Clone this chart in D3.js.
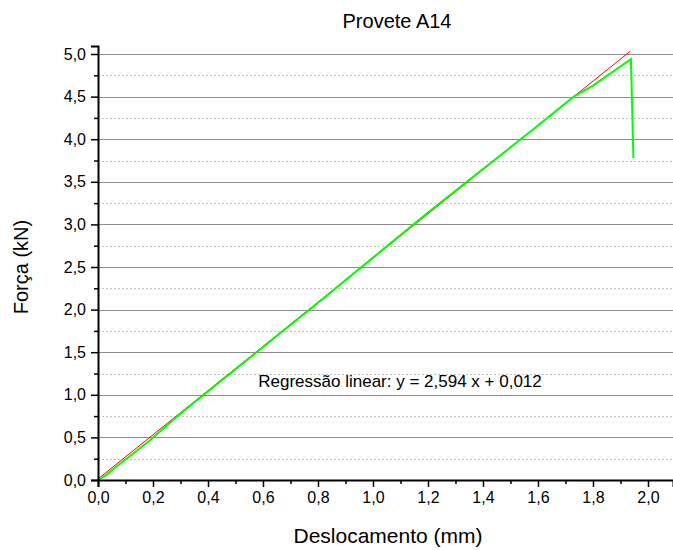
<!DOCTYPE html>
<html>
<head>
<meta charset="utf-8">
<script src="https://cdn.jsdelivr.net/npm/d3@7"></script>
<style>
  body { margin: 0; background: #fff; }
  text { font-family: "Liberation Sans", Arial, sans-serif; fill: #000; }
</style>
</head>
<body>
<svg id="chart" width="673" height="550"></svg>
<script>
// measured curve (Deslocamento mm, Força kN)
var dispMm = [0, 0.03, 0.074, 0.12, 0.19, 0.30, 0.50, 0.80, 1.00, 1.20, 1.40, 1.60, 1.73, 1.80, 1.938, 1.947];
var forceKn = [0, 0.06, 0.176, 0.29, 0.47, 0.78, 1.30, 2.08, 2.61, 3.14, 3.65, 4.16, 4.50, 4.63, 4.94, 3.78];

// regression y = a x + b
var regA = 2.594;
var regB = 0.012;
var regX = [0, 1.935];

var xTicks = [0, 0.2, 0.4, 0.6, 0.8, 1.0, 1.2, 1.4, 1.6, 1.8, 2.0];
var xMinor = [0.1, 0.3, 0.5, 0.7, 0.9, 1.1, 1.3, 1.5, 1.7, 1.9];
var yTicks = [0, 0.5, 1.0, 1.5, 2.0, 2.5, 3.0, 3.5, 4.0, 4.5, 5.0];
var yMinor = [0.25, 0.75, 1.25, 1.75, 2.25, 2.75, 3.25, 3.75, 4.25, 4.75];

var svg = d3.select("#chart");
var L = 98, R = 673, T = 46, B = 480;

var x = d3.scaleLinear().domain([0, 2.091]).range([L, R]);
var y = d3.scaleLinear().domain([0, 5.094]).range([B, T]);
var fmt = function(v) { return d3.format(".1f")(v).replace(".", ","); };

// minor grid (dotted)
svg.append("g").selectAll("line")
  .data(yMinor).enter().append("line")
  .attr("x1", L).attr("x2", R)
  .attr("y1", function(d) { return Math.round(y(d)) + 0.5; })
  .attr("y2", function(d) { return Math.round(y(d)) + 0.5; })
  .attr("stroke", "#c0c0c0")
  .attr("stroke-dasharray", "2,2");

// major grid
svg.append("g").selectAll("line")
  .data(yTicks.slice(1)).enter().append("line")
  .attr("x1", L).attr("x2", R)
  .attr("y1", function(d) { return Math.round(y(d)) + 0.5; })
  .attr("y2", function(d) { return Math.round(y(d)) + 0.5; })
  .attr("stroke", "#8c8c8c");

// regression line
svg.append("line")
  .attr("x1", x(regX[0])).attr("y1", y(regA * regX[0] + regB))
  .attr("x2", x(regX[1])).attr("y2", y(regA * regX[1] + regB))
  .attr("stroke", "#ff0000")
  .attr("stroke-width", 1);

// measured curve
var pts = dispMm.map(function(d, i) { return [d, forceKn[i]]; });
svg.append("path")
  .datum(pts)
  .attr("fill", "none")
  .attr("stroke", "#00ff00")
  .attr("stroke-width", 2)
  .attr("d", d3.line().x(function(d) { return x(d[0]); }).y(function(d) { return y(d[1]); }));

// axes
var xAxis = svg.append("g").attr("transform", "translate(0," + B + ")")
  .call(d3.axisBottom(x).tickValues(xTicks).tickFormat(fmt).tickSize(7).tickPadding(5));
var xAxisMinor = svg.append("g").attr("transform", "translate(0," + B + ")")
  .call(d3.axisBottom(x).tickValues(xMinor).tickFormat("").tickSize(4));
var yAxis = svg.append("g").attr("transform", "translate(" + L + ",0)")
  .call(d3.axisLeft(y).tickValues(yTicks).tickFormat(fmt).tickSize(7).tickPadding(5));
var yAxisMinor = svg.append("g").attr("transform", "translate(" + L + ",0)")
  .call(d3.axisLeft(y).tickValues(yMinor).tickFormat("").tickSize(4));

[xAxis, xAxisMinor, yAxis, yAxisMinor].forEach(function(g) {
  g.selectAll(".domain").attr("stroke", "#000").attr("stroke-width", 2);
  g.selectAll(".tick line").attr("stroke", "#000").attr("stroke-width", 1.5);
  g.selectAll(".tick text").attr("font-size", 16).attr("font-family", "Liberation Sans, Arial, sans-serif").attr("fill", "#000");
});
xAxisMinor.select(".domain").remove();
yAxisMinor.select(".domain").remove();

// titles
svg.append("text")
  .attr("x", 397).attr("y", 28)
  .attr("text-anchor", "middle")
  .attr("font-size", 20)
  .text("Provete A14");

svg.append("text")
  .attr("x", 388).attr("y", 543)
  .attr("text-anchor", "middle")
  .attr("font-size", 21)
  .text("Deslocamento (mm)");

svg.append("text")
  .attr("transform", "translate(28," + ((T + B) / 2 + 4) + ") rotate(-90)")
  .attr("text-anchor", "middle")
  .attr("font-size", 20)
  .text("Força (kN)");

svg.append("text")
  .attr("x", 400).attr("y", 387)
  .attr("text-anchor", "middle")
  .attr("font-size", 17)
  .text("Regressão linear: y = " + fmtCoef(regA) + " x + " + fmtCoef(regB));

function fmtCoef(v) { return d3.format(".3f")(v).replace(".", ","); }
</script>
</body>
</html>
